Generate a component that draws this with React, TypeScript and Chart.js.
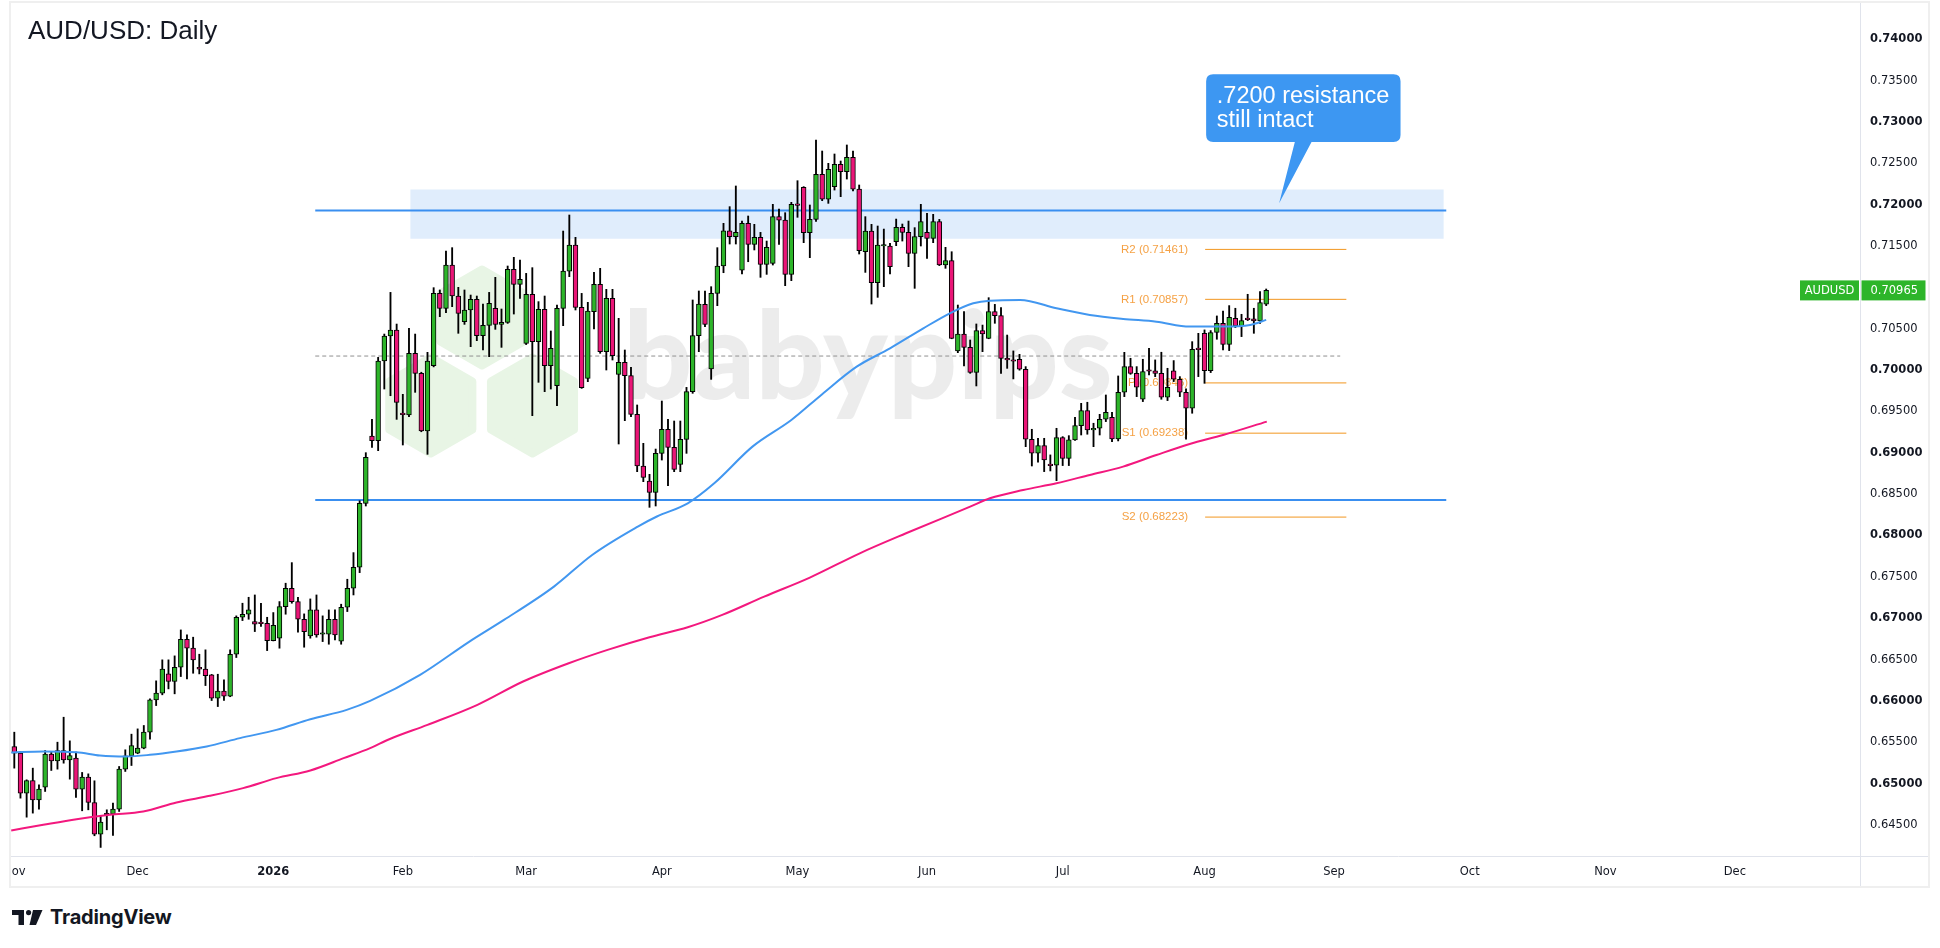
import { useEffect, useRef } from "react";
import { Chart, registerables } from "chart.js";

Chart.register(...registerables);

// ---------- data ----------
const monthTickIdx = [0, 20, 42, 63, 83, 105, 127, 148, 170, 193, 214, 236, 258, 279];
const monthLabels = ["Nov", "Dec", "2026", "Feb", "Mar", "Apr", "May", "Jun", "Jul", "Aug", "Sep", "Oct", "Nov", "Dec"];
const priceTicks = [0.645, 0.65, 0.655, 0.66, 0.665, 0.67, 0.675, 0.68, 0.685, 0.69, 0.695, 0.7, 0.705, 0.71, 0.715, 0.72, 0.725, 0.73, 0.735, 0.74];

const opens = [
  0.65448, 0.65367, 0.64884, 0.65037, 0.64803, 0.64956, 0.65355, 0.65274, 0.65399, 0.65287,
  0.65307, 0.64932, 0.65077, 0.64771, 0.64388, 0.6463, 0.6463, 0.6469, 0.65174, 0.65335,
  0.65367, 0.65428, 0.65621, 0.66012, 0.66093, 0.66326, 0.66234, 0.66407, 0.66745, 0.66637,
  0.66407, 0.66383, 0.66314, 0.66032, 0.66117, 0.66056, 0.66564, 0.67011, 0.67048, 0.66959,
  0.66939, 0.66939, 0.66729, 0.66758, 0.6714, 0.67362, 0.67201, 0.66987, 0.66786, 0.671,
  0.66806, 0.66806, 0.66987, 0.66721, 0.67132, 0.67362, 0.67616, 0.68389, 0.69204, 0.69147,
  0.70111, 0.70413, 0.70486, 0.69466, 0.69458, 0.70204, 0.69962, 0.69264, 0.70054, 0.70929,
  0.70748, 0.71272, 0.70897, 0.70587, 0.70728, 0.70857, 0.70417, 0.70542, 0.70748, 0.70554,
  0.70578, 0.7122, 0.71038, 0.70324, 0.70917, 0.70345, 0.70736, 0.70054, 0.69813, 0.70748,
  0.71199, 0.71514, 0.7076, 0.69901, 0.70708, 0.71038, 0.70224, 0.70869, 0.6995, 0.70095,
  0.69934, 0.69466, 0.68841, 0.68659, 0.68522, 0.68994, 0.69284, 0.69067, 0.68861, 0.69163,
  0.6974, 0.70417, 0.70796, 0.70014, 0.70929, 0.7126, 0.71687, 0.71615, 0.71211, 0.71776,
  0.71522, 0.71607, 0.7128, 0.71292, 0.71857, 0.71816, 0.71159, 0.71998, 0.72212, 0.71663,
  0.71824, 0.72369, 0.7207, 0.7222, 0.7249, 0.72401, 0.72574, 0.72191, 0.71433, 0.71683,
  0.71058, 0.71502, 0.71502, 0.71554, 0.71728, 0.71667, 0.71413, 0.71615, 0.71667, 0.71595,
  0.71796, 0.71272, 0.71325, 0.70232, 0.70438, 0.70276, 0.69974, 0.70478, 0.70385, 0.70708,
  0.70659, 0.70143, 0.70112, 0.70132, 0.70011, 0.69164, 0.68995, 0.69087, 0.6885, 0.6885,
  0.69184, 0.68934, 0.69156, 0.69329, 0.69511, 0.69277, 0.69297, 0.69406, 0.6943, 0.69168,
  0.69733, 0.70043, 0.69962, 0.69648, 0.69991, 0.69991, 0.69962, 0.69672, 0.69991, 0.6989,
  0.69733, 0.69539, 0.70253, 0.70446, 0.69995, 0.70458, 0.70567, 0.70313, 0.70628, 0.70535,
  0.70616, 0.7062, 0.70595, 0.70797,
];
const highs = [
  0.65621, 0.65387, 0.65045, 0.65186, 0.64984, 0.65399, 0.65387, 0.655, 0.65802, 0.65516,
  0.65379, 0.65134, 0.65117, 0.65033, 0.64602, 0.64682, 0.64763, 0.65206, 0.65408, 0.65597,
  0.65661, 0.65702, 0.66024, 0.66242, 0.66496, 0.66496, 0.66544, 0.66858, 0.66798, 0.6677,
  0.66564, 0.66617, 0.6632, 0.66322, 0.66254, 0.66617, 0.67028, 0.67181, 0.67253, 0.67281,
  0.67181, 0.67011, 0.67068, 0.67201, 0.67423, 0.67672, 0.67253, 0.67052, 0.67233, 0.67281,
  0.67028, 0.671, 0.671, 0.67169, 0.67471, 0.67793, 0.6842, 0.69002, 0.69405, 0.70155,
  0.70437, 0.70941, 0.70558, 0.69708, 0.70506, 0.70437, 0.69975, 0.70216, 0.70998, 0.7097,
  0.71441, 0.71482, 0.71002, 0.7097, 0.70909, 0.70897, 0.708, 0.70941, 0.71123, 0.7074,
  0.7126, 0.71365, 0.71332, 0.71171, 0.7124, 0.70829, 0.70897, 0.70474, 0.70788, 0.71683,
  0.71877, 0.71607, 0.70929, 0.70821, 0.71183, 0.71232, 0.70978, 0.70978, 0.70627, 0.70244,
  0.70034, 0.69579, 0.69115, 0.6874, 0.69046, 0.69627, 0.69405, 0.69385, 0.69385, 0.69792,
  0.70849, 0.70958, 0.70958, 0.7101, 0.71482, 0.71776, 0.71978, 0.72228, 0.71804, 0.71865,
  0.71764, 0.71667, 0.71562, 0.72006, 0.7195, 0.71905, 0.7203, 0.72292, 0.7222, 0.71998,
  0.72784, 0.72651, 0.72502, 0.72615, 0.7253, 0.72724, 0.72651, 0.7224, 0.71857, 0.71764,
  0.71744, 0.71707, 0.71534, 0.71828, 0.71768, 0.71804, 0.71724, 0.72006, 0.71897, 0.71885,
  0.71824, 0.71486, 0.71433, 0.70788, 0.70708, 0.70365, 0.70559, 0.70546, 0.70877, 0.70796,
  0.70756, 0.70425, 0.70233, 0.70192, 0.70043, 0.69285, 0.69176, 0.69176, 0.68975, 0.69297,
  0.69196, 0.69208, 0.6943, 0.69599, 0.69612, 0.69358, 0.69466, 0.697, 0.69491, 0.6993,
  0.70216, 0.70144, 0.70043, 0.70132, 0.70265, 0.70124, 0.70217, 0.70023, 0.70116, 0.69922,
  0.69773, 0.70345, 0.70446, 0.70487, 0.70479, 0.70656, 0.70716, 0.70781, 0.70749, 0.70676,
  0.70918, 0.70749, 0.7095, 0.70982,
];
const lows = [
  0.65186, 0.64823, 0.64593, 0.64642, 0.6469, 0.64904, 0.65158, 0.65174, 0.65246, 0.65053,
  0.64831, 0.6467, 0.64682, 0.64368, 0.64227, 0.6444, 0.64372, 0.64662, 0.65146, 0.65218,
  0.6536, 0.6542, 0.65536, 0.65943, 0.66073, 0.66145, 0.66085, 0.66294, 0.66266, 0.66334,
  0.66326, 0.66185, 0.66004, 0.65931, 0.66004, 0.6605, 0.66524, 0.66971, 0.66987, 0.66838,
  0.66899, 0.66608, 0.66725, 0.66637, 0.67048, 0.67181, 0.6683, 0.66649, 0.66758, 0.6677,
  0.66717, 0.66685, 0.66737, 0.66685, 0.6708, 0.67281, 0.67551, 0.68357, 0.69067, 0.69026,
  0.69772, 0.69691, 0.69405, 0.69095, 0.69438, 0.69732, 0.69255, 0.68982, 0.7004, 0.70647,
  0.70695, 0.70768, 0.70446, 0.70554, 0.70284, 0.70357, 0.70244, 0.70163, 0.70494, 0.70276,
  0.70566, 0.70679, 0.70869, 0.7031, 0.6945, 0.69853, 0.6974, 0.69772, 0.69571, 0.70538,
  0.71131, 0.70728, 0.6978, 0.69861, 0.70498, 0.70204, 0.70002, 0.70123, 0.69107, 0.69389,
  0.69438, 0.68772, 0.68651, 0.68341, 0.68357, 0.68913, 0.68603, 0.68772, 0.68772, 0.68994,
  0.6972, 0.70224, 0.70526, 0.69889, 0.7078, 0.71179, 0.71526, 0.71526, 0.71163, 0.71312,
  0.71454, 0.71123, 0.71159, 0.71272, 0.71522, 0.71022, 0.71083, 0.71849, 0.71542, 0.71361,
  0.718, 0.7205, 0.72018, 0.72179, 0.72099, 0.72312, 0.72167, 0.71405, 0.71183, 0.708,
  0.70881, 0.7101, 0.71163, 0.71506, 0.71562, 0.71252, 0.7099, 0.71502, 0.71353, 0.71542,
  0.71265, 0.71232, 0.7038, 0.70212, 0.70051, 0.69962, 0.69809, 0.70224, 0.7038, 0.70567,
  0.69962, 0.70022, 0.69894, 0.7, 0.69075, 0.68841, 0.68886, 0.68773, 0.68781, 0.68664,
  0.68846, 0.68846, 0.6915, 0.69216, 0.69225, 0.69075, 0.69216, 0.69378, 0.69136, 0.69144,
  0.6968, 0.6995, 0.6968, 0.6962, 0.69942, 0.69922, 0.69648, 0.69632, 0.69862, 0.6968,
  0.69164, 0.69479, 0.69922, 0.69841, 0.69971, 0.70374, 0.70245, 0.70237, 0.70515, 0.70406,
  0.706, 0.70446, 0.70567, 0.70781,
];
const closes = [
  0.65367, 0.64884, 0.65037, 0.64803, 0.64932, 0.65355, 0.65274, 0.65399, 0.65287, 0.65339,
  0.64932, 0.65077, 0.64771, 0.64388, 0.64533, 0.64622, 0.6469, 0.65174, 0.65335, 0.6546,
  0.65428, 0.65621, 0.66012, 0.66093, 0.66383, 0.66234, 0.66407, 0.66745, 0.66637, 0.66496,
  0.66383, 0.66306, 0.66032, 0.66117, 0.66056, 0.66564, 0.67011, 0.67048, 0.671, 0.66927,
  0.66935, 0.66729, 0.66915, 0.6714, 0.67362, 0.67201, 0.66987, 0.66838, 0.671, 0.66798,
  0.6681, 0.66987, 0.66798, 0.67132, 0.67362, 0.67616, 0.6839, 0.68946, 0.69147, 0.70111,
  0.70413, 0.70486, 0.69611, 0.69462, 0.70204, 0.69962, 0.69264, 0.70111, 0.70929, 0.70748,
  0.71272, 0.70897, 0.70687, 0.70728, 0.70857, 0.70417, 0.70542, 0.70808, 0.70554, 0.70578,
  0.7122, 0.71038, 0.71099, 0.70917, 0.70345, 0.70736, 0.70054, 0.70264, 0.70748, 0.71199,
  0.71514, 0.7076, 0.69788, 0.70716, 0.71038, 0.70224, 0.70869, 0.70175, 0.70095, 0.69934,
  0.69466, 0.68841, 0.68704, 0.68522, 0.68994, 0.69284, 0.69067, 0.68801, 0.69163, 0.6974,
  0.70417, 0.708, 0.70554, 0.70929, 0.7126, 0.71687, 0.71615, 0.71667, 0.71776, 0.71522,
  0.71607, 0.7128, 0.71486, 0.71857, 0.71816, 0.71159, 0.72006, 0.71994, 0.71663, 0.71824,
  0.72369, 0.7207, 0.72429, 0.7249, 0.72401, 0.72574, 0.72191, 0.71445, 0.71683, 0.71058,
  0.71514, 0.71506, 0.71252, 0.71728, 0.71667, 0.71413, 0.71615, 0.71796, 0.71595, 0.71796,
  0.71272, 0.71325, 0.70385, 0.70438, 0.70276, 0.69974, 0.70478, 0.70438, 0.70708, 0.70659,
  0.70143, 0.70123, 0.70108, 0.70011, 0.69164, 0.68995, 0.69087, 0.68914, 0.68846, 0.69184,
  0.68934, 0.69156, 0.69329, 0.69511, 0.69277, 0.69297, 0.69406, 0.69491, 0.69168, 0.69733,
  0.70043, 0.69962, 0.69793, 0.69983, 0.69987, 0.69962, 0.69672, 0.69793, 0.6989, 0.69733,
  0.69539, 0.70253, 0.70249, 0.69995, 0.70454, 0.70567, 0.70313, 0.7064, 0.70535, 0.706,
  0.70612, 0.70595, 0.70817, 0.70965,
];

// moving averages (bar index, value)
const smaBlueX = [-0.5, 4.7, 10.1, 13.9, 18.2, 22, 26.3, 31.2, 36.6, 42.5, 48, 53.9, 57.7, 65.8, 73.8, 79.4, 87.5, 93.7, 101.1, 104.2, 109.2, 113.5, 119.7, 126, 131, 136.6, 142, 147.4, 151.7, 155.5, 158.2, 163.1, 169, 174.4, 179.8, 185.2, 190.6, 196, 200.4, 203];
const smaBlueY = [0.65375, 0.65387, 0.65379, 0.65339, 0.65327, 0.65347, 0.65387, 0.65448, 0.65549, 0.65649, 0.65778, 0.65891, 0.65999, 0.66314, 0.66717, 0.66979, 0.67382, 0.67765, 0.68108, 0.6823, 0.6839, 0.68632, 0.69075, 0.69397, 0.6971, 0.70042, 0.70264, 0.70506, 0.70688, 0.70809, 0.70841, 0.70849, 0.70749, 0.70668, 0.7062, 0.70587, 0.70527, 0.70527, 0.70547, 0.70608];
const smaPinkX = [-0.5, 4.7, 10.1, 15.5, 20.9, 26.3, 31.7, 37.1, 42.5, 48, 53.4, 57.7, 60.8, 67, 75.1, 82.5, 89.9, 96.2, 103, 109.2, 114.8, 121.6, 129, 137.1, 144.6, 155, 158.2, 163.6, 169, 174.4, 179.8, 185.2, 190.6, 196, 203.1];
const smaPinkY = [0.64432, 0.64501, 0.64569, 0.64622, 0.64662, 0.64771, 0.64851, 0.64944, 0.65065, 0.65158, 0.65307, 0.65428, 0.65536, 0.6571, 0.65952, 0.66234, 0.66455, 0.66617, 0.6677, 0.66891, 0.6704, 0.67261, 0.67491, 0.67785, 0.68027, 0.68349, 0.6845, 0.68551, 0.68632, 0.68733, 0.68833, 0.68974, 0.69108, 0.69216, 0.69378];

// drawings
const resistanceLevel = 0.7193;
const supportLevel = 0.6843;
const midLevel = 0.70171;
const levelSpan = [48.8, 232.2];
const midSpan = [48.8, 215];
const zoneTop = 0.72187;
const zoneBottom = 0.71591;
const zoneSpan = [64.2, 231.8];
const pivotNames = ["R2", "R1", "P", "S1", "S2"];
const pivotLevels = [0.71461, 0.70857, 0.69846, 0.69238, 0.68223];
const pivotSpan = [193.1, 216];
const calloutTip = { x: 205.1, y: 0.72019 };
const calloutLines = [".7200 resistance", "still intact"];
const symbolName = "AUDUSD";

// ---------- styles ----------
const GREEN = "#2db52a";
const PINK = "#ea1577";
const BLUE_MA = "#4297f0";
const PINK_MA = "#f3187e";
const LINE_BLUE = "#3a8ff0";
const ORANGE_LINE = "#f2961f";
const ORANGE_TEXT = "#f5a144";
const AXIS_TEXT = "#131722";
const BORDER = "#e0e3eb";

const hline = (level: number, span: number[]) => [
  { x: span[0], y: level },
  { x: span[1], y: level },
];

const decorPlugin = {
  id: "decor",
  beforeDatasetsDraw(chart: any) {
    const { ctx, scales } = chart;
    const xs = scales.x;
    const ys = scales.y;
    ctx.save();
    // watermark hexagons
    const hexes = [
      [471, 314.5],
      [419.8, 402.5],
      [521.5, 402.5],
    ];
    ctx.fillStyle = "#e8f5e5";
    ctx.strokeStyle = "#e8f5e5";
    ctx.lineJoin = "round";
    ctx.lineWidth = 8;
    for (const [cx, cy] of hexes) {
      const r = 48;
      ctx.beginPath();
      for (let k = 0; k < 6; k++) {
        const a = ((-90 + 60 * k) * Math.PI) / 180;
        const px = cx + r * Math.cos(a);
        const py = cy + r * Math.sin(a);
        if (k === 0) ctx.moveTo(px, py);
        else ctx.lineTo(px, py);
      }
      ctx.closePath();
      ctx.fill();
      ctx.stroke();
    }
    // watermark text
    ctx.fillStyle = "rgba(0,0,0,0.075)";
    ctx.font = "900 122px Lato";
    ctx.textBaseline = "alphabetic";
    ctx.textAlign = "left";
    ctx.fillText("babypips", 612, 396);

    // pivot labels
    ctx.font = "11.5px 'Liberation Sans'";
    ctx.fillStyle = ORANGE_TEXT;
    ctx.textAlign = "right";
    ctx.textBaseline = "middle";
    const lx = xs.getPixelForValue(pivotSpan[0]) - 17;
    pivotNames.forEach((n, i) => {
      ctx.fillText(`${n} (${pivotLevels[i].toFixed(5)})`, lx, ys.getPixelForValue(pivotLevels[i]));
    });
    ctx.restore();
  },
  afterDatasetsDraw(chart: any) {
    const { ctx, scales } = chart;
    const tx = scales.x.getPixelForValue(calloutTip.x);
    const ty = scales.y.getPixelForValue(calloutTip.y);
    const left = tx - 73;
    const right = tx + 121.4;
    const top = ty - 129;
    const bottom = ty - 61.3;
    const r = 7;
    ctx.save();
    ctx.fillStyle = "#3d97f2";
    ctx.beginPath();
    ctx.moveTo(left + r, top);
    ctx.lineTo(right - r, top);
    ctx.quadraticCurveTo(right, top, right, top + r);
    ctx.lineTo(right, bottom - r);
    ctx.quadraticCurveTo(right, bottom, right - r, bottom);
    ctx.lineTo(tx + 32.4, bottom);
    ctx.lineTo(tx, ty);
    ctx.lineTo(tx + 15.7, bottom);
    ctx.lineTo(left + r, bottom);
    ctx.quadraticCurveTo(left, bottom, left, bottom - r);
    ctx.lineTo(left, top + r);
    ctx.quadraticCurveTo(left, top, left + r, top);
    ctx.closePath();
    ctx.fill();
    ctx.fillStyle = "#ffffff";
    ctx.font = "23.5px 'Liberation Sans'";
    ctx.textAlign = "left";
    ctx.textBaseline = "alphabetic";
    ctx.fillText(calloutLines[0], left + 10.7, top + 28.4);
    ctx.fillText(calloutLines[1], left + 10.7, top + 53.2);
    ctx.restore();
  },
  afterDraw(chart: any) {
    const { ctx, chartArea, scales, width, height } = chart;
    ctx.save();
    ctx.strokeStyle = BORDER;
    ctx.lineWidth = 1;
    ctx.beginPath();
    ctx.moveTo(chartArea.right, Math.round(chartArea.bottom) + 0.5);
    ctx.lineTo(width, Math.round(chartArea.bottom) + 0.5);
    ctx.moveTo(Math.round(chartArea.right) + 0.5, chartArea.bottom);
    ctx.lineTo(Math.round(chartArea.right) + 0.5, height);
    ctx.stroke();

    // last price tags
    const last = closes[closes.length - 1];
    const py = scales.y.getPixelForValue(last);
    const ax = chartArea.right;
    ctx.fillStyle = GREEN;
    ctx.fillRect(ax + 1.5, py - 10, 64, 20);
    ctx.fillRect(ax - 60, py - 10, 59, 20);
    ctx.fillStyle = "#ffffff";
    ctx.font = "11.5px 'DejaVu Sans'";
    ctx.textBaseline = "middle";
    ctx.textAlign = "left";
    ctx.fillText(last.toFixed(5), ax + 10.5, py + 0.5);
    ctx.textAlign = "center";
    ctx.fillText(symbolName, ax - 30.5, py + 0.5);
    ctx.restore();
  },
};

export default function App() {
  const ref = useRef<HTMLCanvasElement>(null);

  useEffect(() => {
    if (!ref.current) return;
    const wicks = lows.map((l, i) => ({ x: i, y: [l, highs[i]] }));
    const bodies = opens.map((o, i) => ({ x: i, y: [o, closes[i]] }));
    const bodyColors = opens.map((o, i) => (closes[i] >= o ? GREEN : PINK));
    const lineBase = { type: "line", pointRadius: 0, fill: false, tension: 0 };

    const chart = new Chart(ref.current, {
      type: "bar",
      data: {
        datasets: [
          {
            ...lineBase,
            data: hline(zoneTop, zoneSpan),
            borderWidth: 0,
            borderColor: "rgba(0,0,0,0)",
            backgroundColor: "#e0edfc",
            fill: "+1",
            order: 10,
          },
          {
            ...lineBase,
            data: hline(zoneBottom, zoneSpan),
            borderWidth: 0,
            borderColor: "rgba(0,0,0,0)",
            order: 10,
          },
          { ...lineBase, data: hline(resistanceLevel, levelSpan), borderColor: LINE_BLUE, borderWidth: 2, order: 9 },
          { ...lineBase, data: hline(supportLevel, levelSpan), borderColor: LINE_BLUE, borderWidth: 2, order: 9 },
          {
            ...lineBase,
            data: hline(midLevel, midSpan),
            borderColor: "#8f8f8f",
            borderWidth: 1,
            borderDash: [4, 3],
            order: 9,
          },
          ...pivotLevels.map((lv) => ({
            ...lineBase,
            data: hline(lv, pivotSpan),
            borderColor: ORANGE_LINE,
            borderWidth: 1,
            order: 9,
          })),
          {
            type: "bar",
            data: wicks,
            backgroundColor: "#000000",
            borderWidth: 0,
            barThickness: 1.2,
            grouped: false,
            order: 3,
          },
          {
            type: "bar",
            data: bodies,
            backgroundColor: bodyColors,
            borderColor: "#000000",
            borderWidth: 1,
            borderSkipped: false,
            barThickness: 4.8,
            minBarLength: 1.5,
            grouped: false,
            order: 2,
          },
          {
            ...lineBase,
            data: smaBlueX.map((x, i) => ({ x, y: smaBlueY[i] })),
            borderColor: BLUE_MA,
            borderWidth: 2,
            cubicInterpolationMode: "monotone",
            order: 1,
          },
          {
            ...lineBase,
            data: smaPinkX.map((x, i) => ({ x, y: smaPinkY[i] })),
            borderColor: PINK_MA,
            borderWidth: 2,
            cubicInterpolationMode: "monotone",
            order: 1,
          },
        ] as any,
      },
      options: {
        animation: false,
        responsive: false,
        events: [],
        layout: { padding: 0 },
        plugins: { legend: { display: false }, tooltip: { enabled: false }, title: { display: false } },
        scales: {
          x: {
            type: "linear",
            position: "bottom",
            min: -0.535,
            max: 299.29,
            bounds: "data",
            offset: false,
            grid: { display: false, offset: false, drawTicks: false, tickLength: 0 },
            border: { display: true, color: BORDER },
            afterBuildTicks: (s: any) => {
              s.ticks = monthTickIdx.map((v) => ({ value: v }));
            },
            afterFit: (s: any) => {
              s.height = 30;
              s.paddingLeft = 0;
              s.paddingRight = 0;
            },
            ticks: {
              autoSkip: false,
              maxRotation: 0,
              minRotation: 0,
              padding: 9,
              color: AXIS_TEXT,
              font: (c: any) => ({
                family: "'DejaVu Sans'",
                size: 11.5,
                weight: c.tick && c.tick.label === "2026" ? "bold" : "normal",
              }),
              callback: (_v: any, i: number) => monthLabels[i],
            },
          },
          y: {
            type: "linear",
            position: "right",
            min: 0.641233,
            max: 0.744415,
            bounds: "data",
            grid: { display: false, drawTicks: false, tickLength: 0 },
            border: { display: true, color: BORDER },
            afterBuildTicks: (s: any) => {
              s.ticks = priceTicks.map((v) => ({ value: v }));
            },
            afterFit: (s: any) => {
              s.width = 68;
              s.paddingTop = 0;
              s.paddingBottom = 0;
            },
            ticks: {
              autoSkip: false,
              padding: 10,
              crossAlign: "near",
              color: AXIS_TEXT,
              font: (c: any) => {
                const v = c.tick ? c.tick.value : 0;
                const major = Math.abs(v * 100 - Math.round(v * 100)) < 1e-6;
                return { family: "'DejaVu Sans'", size: 11.5, weight: major ? "bold" : "normal" };
              },
              callback: (v: any) => Number(v).toFixed(5),
            },
          },
        },
      } as any,
      plugins: [decorPlugin],
    });
    return () => chart.destroy();
  }, []);

  return (
    <div
      style={{
        position: "absolute",
        left: 0,
        top: 0,
        width: 1940,
        height: 948,
        background: "#ffffff",
        overflow: "hidden",
      }}
    >
      <div
        style={{
          position: "absolute",
          left: 9,
          top: 1,
          width: 1921,
          height: 887,
          border: "2px solid #efefef",
          boxSizing: "border-box",
        }}
      />
      <canvas
        ref={ref}
        width={1917}
        height={883}
        style={{ position: "absolute", left: 11, top: 3, width: 1917, height: 883 }}
      />
      <div
        style={{
          position: "absolute",
          left: 28,
          top: 17,
          font: "26px 'Liberation Sans'",
          lineHeight: "26px",
          color: AXIS_TEXT,
          whiteSpace: "nowrap",
        }}
      >
        AUD/USD: Daily
      </div>
      <div
        style={{
          position: "absolute",
          left: 12,
          top: 907,
          height: 20,
          display: "flex",
          alignItems: "flex-start",
        }}
      >
        <svg width="31" height="15" viewBox="0 0 31 15" style={{ marginTop: 3 }}>
          <rect x="0" y="0" width="12" height="5" fill="#131722" />
          <rect x="6.5" y="0" width="5.5" height="15" fill="#131722" />
          <circle cx="16.6" cy="2.6" r="2.6" fill="#131722" />
          <polygon points="21,0 30.5,0 24,15 17.5,15" fill="#131722" />
        </svg>
        <span
          style={{
            marginLeft: 7,
            font: "700 20px Inter",
            lineHeight: "20px",
            color: "#131722",
            letterSpacing: "-0.2px",
          }}
        >
          TradingView
        </span>
      </div>
    </div>
  );
}
